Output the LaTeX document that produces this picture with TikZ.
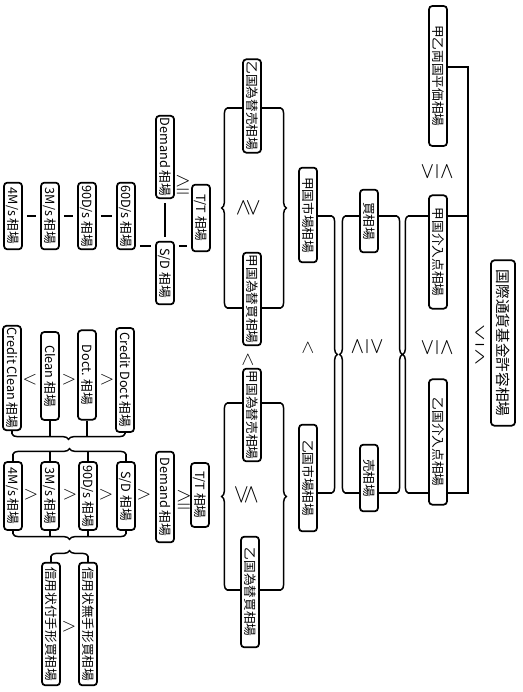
\documentclass[tikz,border=0pt]{standalone}
\usepackage{amssymb}
\usepackage{graphicx}
\usepackage{fontspec}
\newfontfamily\jfont{Noto Sans CJK JP}
\usetikzlibrary{decorations.pathreplacing}

\tikzset{
  rate/.style={draw, line width=1.3pt, rounded corners=2.5pt, rotate=-90,
    inner sep=1.5pt, minimum height=13.5pt, font=\jfont\fontsize{9.5}{10}\selectfont},
  rel/.style={inner sep=0pt, font=\fontsize{15}{15}\selectfont},
  relrot/.style={rel, rotate=-90, font=\fontsize{18}{18}\selectfont},
  link/.style={line width=1.1pt},
  eqbar/.style={line width=2pt, shorten <=3pt, shorten >=3pt},
  curly/.style={link, decorate, decoration={brace, amplitude=4pt}},
}

\begin{document}
\begin{tikzpicture}[x=0.75pt, y=-0.75pt]
  \useasboundingbox (0,0) rectangle (523,692);

  % first row of rates
  \node[rate, minimum width=50pt] (a4) at (13,216) {4M/s 相場};
  \node[rate, minimum width=50pt] (a3) at (50,216) {3M/s 相場};
  \node[rate, minimum width=50pt] (a90) at (87,216) {90D/s 相場};
  \node[rate, minimum width=50pt] (a60) at (126,216) {60D/s 相場};
  \node[rate, minimum width=56pt] (adem) at (165,157) {Demand 相場};
  \node[rate, minimum width=47pt] (asd) at (165,273) {S/D 相場};
  \node[rate, minimum width=50pt] (att) at (201,218) {T/T 相場};
  \node[rel] (ga) at (183,185) {$\geqq$};

  % equal bars
  \coordinate (yd) at (0,246);
  \draw[eqbar] (a4) -- (a3);
  \draw[eqbar] (a3) -- (a90);
  \draw[eqbar] (a90) -- (a60);
  \draw[eqbar] (a60.north |- yd) -- (asd.south |- yd);
  \draw[eqbar] (asd.north |- yd) -- (att.south |- yd);
  \draw[eqbar] (adem) -- (asd);

  % credit rates
  \node[rate, minimum width=74pt] (cc) at (12,378) {Credit Clean 相場};
  \node[rate, minimum width=66pt] (cl) at (50,376) {Clean 相場};
  \node[rate, minimum width=67pt] (dc) at (87,375) {Doct. 相場};
  \node[rate, minimum width=78pt] (cd) at (125,380) {Credit Doct 相場};
  \node[rel] at (30,380) {$<$};
  \node[rel] at (69,380) {$>$};
  \node[rel] at (107,380) {$>$};

  % second row of rates
  \node[rate, minimum width=51pt] (b4) at (13,496) {4M/s 相場};
  \node[rate, minimum width=51pt] (b3) at (50,496) {3M/s 相場};
  \node[rate, minimum width=51pt] (b90) at (88,496) {90D/s 相場};
  \node[rate, minimum width=51pt] (bsd) at (126,496) {S/D 相場};
  \node[rate, minimum width=68pt] (bdem) at (165,497) {Demand 相場};
  \node[rate, minimum width=48pt] (btt) at (200,495) {T/T 相場};
  \foreach \x in {31,70,106,144}
    \node[rel] at (\x,495) {$>$};
  \node[rel] (gb) at (184,500) {$\geqq$};

  % credit letter rates
  \node[rate, minimum width=92pt] (l1) at (51,624) {信用状付手形買相場};
  \node[rate, minimum width=92pt] (l2) at (88,624) {信用状無手形買相場};
  \node[rel] at (69,627) {$>$};

  % brackets between the rows
  \coordinate (ya) at (0,434);   \coordinate (yam) at (0,436.7);
  \coordinate (yb) at (0,454);   \coordinate (ybm) at (0,451.3);
  \coordinate (yc) at (0,534);   \coordinate (ycm) at (0,536.7);
  \coordinate (ye) at (0,556);
  \draw[link] (cc.east) -- (cc.east |- ya);
  \draw[link] (cl.east) -- (cl.east |- yam);
  \draw[link] (dc.east) -- (dc.east |- yam);
  \draw[link] (cd.east) -- (cd.east |- ya);
  \draw[curly] (cd.east |- ya) -- (cc.east |- ya);
  \draw[link] (b4.west) -- (b4.west |- yb);
  \draw[link] (b3.west) -- (b3.west |- ybm);
  \draw[link] (b90.west) -- (b90.west |- ybm);
  \draw[link] (bsd.west) -- (bsd.west |- yb);
  \draw[curly] (b4.west |- yb) -- (bsd.west |- yb);
  \draw[link] (b4.east) -- (b4.east |- yc);
  \draw[link] (b3.east) -- (b3.east |- ycm);
  \draw[link] (b90.east) -- (b90.east |- ycm);
  \draw[link] (bsd.east) -- (bsd.east |- yc);
  \draw[curly] (bsd.east |- yc) -- (b4.east |- yc);
  \draw[link] (l1.west) -- (l1.west |- ye);
  \draw[link] (l2.west) -- (l2.west |- ye);
  \draw[curly] (l1.west |- ye) -- (l2.west |- ye);

  % middle column
  \node[rate, minimum width=70pt] (m1) at (252,106) {乙国為替売相場};
  \node[rate, minimum width=69pt] (m2) at (252,299) {甲国為替買相場};
  \node[rate, minimum width=68pt] (m3) at (252,415) {甲国為替売相場};
  \node[rate, minimum width=83pt] (m4) at (250,592) {乙国為替買相場};
  \node[relrot] at (249,208) {$\gtrless$};
  \node[relrot, font=\fontsize{15}{15}\selectfont] at (248,360) {$<$};
  \node[relrot] at (247,495) {$\lessgtr$};

  \coordinate (xl) at (227,0);  \coordinate (xr) at (281,0);
  \coordinate (t1) at (0,108);  \coordinate (t2) at (0,308);
  \coordinate (t3) at (0,403);  \coordinate (t4) at (0,590);
  \draw[link] (m1.south |- t1) -- (xl |- t1);
  \draw[link] (m2.south |- t2) -- (xl |- t2);
  \draw[curly] (xl |- t2) -- (xl |- t1);
  \draw[link] (m1.north |- t1) -- (xr |- t1);
  \draw[link] (m2.north |- t2) -- (xr |- t2);
  \draw[curly] (xr |- t1) -- (xr |- t2);
  \draw[link] (m3.south |- t3) -- (xl |- t3);
  \draw[link] (m4.south |- t4) -- (xl |- t4);
  \draw[curly] (xl |- t4) -- (xl |- t3);
  \draw[link] (m3.north |- t3) -- (xr |- t3);
  \draw[link] (m4.north |- t4) -- (xr |- t4);
  \draw[curly] (xr |- t3) -- (xr |- t4);

  % right columns
  \node[rate, minimum width=71pt] (n1) at (308,215) {甲国市場相場};
  \node[rate, minimum width=80pt] (n2) at (308,478) {乙国市場相場};
  \node[relrot, font=\fontsize{15}{15}\selectfont] at (308,348) {$<$};
  \node[rate, minimum width=47pt] (p1) at (369,221) {買相場};
  \node[rate, minimum width=50pt] (p2) at (369,478) {売相場};
  \node[relrot] at (367,347) {$\gtreqless$};
  \node[rate, minimum width=105pt] (q1) at (438,76) {甲乙両国平価相場};
  \node[rate, minimum width=85pt] (q2) at (438,252) {甲国介入点相場};
  \node[rate, minimum width=94pt] (q3) at (438,442) {乙国介入点相場};
  \node[relrot] at (437,172) {$\lesseqgtr$};
  \node[relrot] at (437,348) {$\lesseqgtr$};

  \coordinate (x2r) at (332,0);  \coordinate (x3l) at (345,0);
  \coordinate (x3r) at (397,0);  \coordinate (x4l) at (408,0);
  \coordinate (x4r) at (468,0);
  \coordinate (ta) at (0,216);   \coordinate (tb) at (0,493);
  \coordinate (tq) at (0,67);
  \draw[link] (n1.north |- ta) -- (x2r |- ta);
  \draw[link] (n2.north |- tb) -- (x2r |- tb);
  \draw[curly] (x2r |- ta) -- (x2r |- tb);
  \draw[link] (p1.south |- ta) -- (x3l |- ta);
  \draw[link] (p2.south |- tb) -- (x3l |- tb);
  \draw[curly] (x3l |- tb) -- (x3l |- ta);
  \draw[link] (p1.north |- ta) -- (x3r |- ta);
  \draw[link] (p2.north |- tb) -- (x3r |- tb);
  \draw[curly] (x3r |- ta) -- (x3r |- tb);
  \draw[link] (q2.south |- ta) -- (x4l |- ta);
  \draw[link] (q3.south |- tb) -- (x4l |- tb);
  \draw[curly] (x4l |- tb) -- (x4l |- ta);
  \draw[link] (q1.north |- tq) -| (x4r |- tb) -- (q3.north |- tb);
  \draw[link] (q2.north |- ta) -- (x4r |- ta);

  % final rate
  \node[rel] at (480,345) {\scalebox{0.75}[1.5]{$\lesseqgtr$}};
  \node[rate, minimum width=124pt, minimum height=18pt,
    font=\jfont\fontsize{11}{12}\selectfont] (rf) at (503,343) {国際通貨基金許容相場};
\end{tikzpicture}
\end{document}
